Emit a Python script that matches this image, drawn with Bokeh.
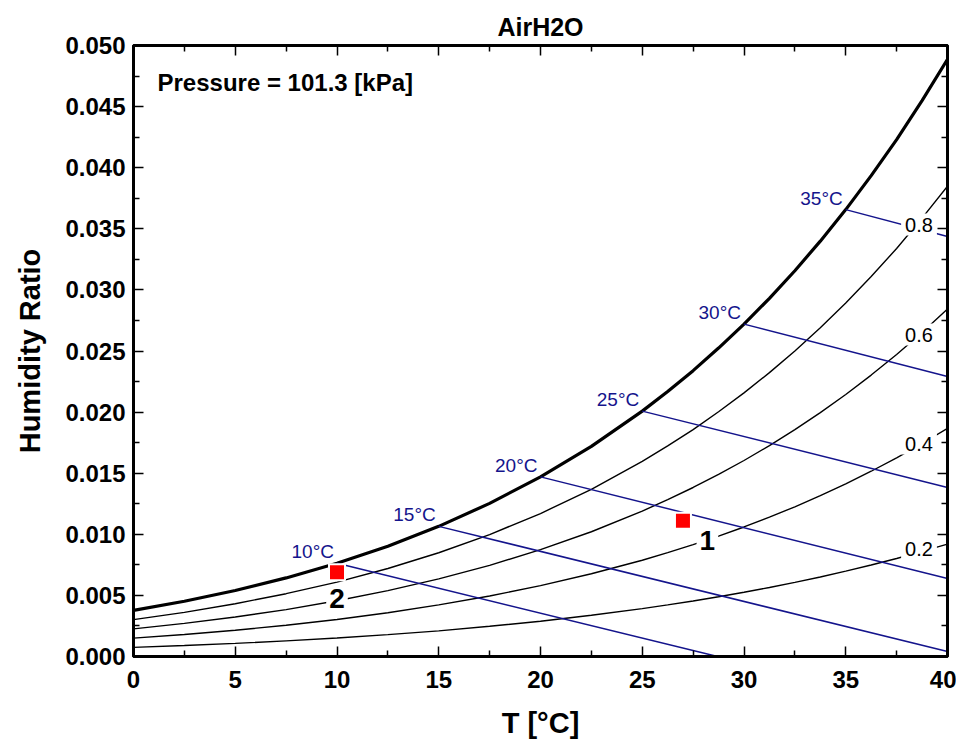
from bokeh.plotting import figure
from bokeh.models import (LinearAxis, ColumnDataSource, Label, Range1d, FixedTicker,
                          PrintfTickFormatter)
from bokeh.embed import file_html
from bokeh.resources import INLINE

# ---- data ----
T = [0, 2.5, 5, 7.5, 10, 12.5, 15, 17.5, 20, 22.5, 25, 26.25, 27.5, 28.75, 30,
     31.25, 32.5, 33.75, 35, 36.25, 37.5, 38.75, 40]
W_sat = [0.00378, 0.00452, 0.00540, 0.00643, 0.00763, 0.00903, 0.01065, 0.01253, 0.01470,
         0.01720, 0.02008, 0.02168, 0.02339, 0.02524, 0.02720,
         0.02931, 0.03157, 0.03399, 0.03657, 0.03935, 0.04230, 0.04549, 0.04887]
W_rh80 = [0.00302, 0.00361, 0.00432, 0.00514, 0.00609, 0.00720, 0.00849, 0.00998, 0.01170,
          0.01368, 0.01596, 0.01723, 0.01857, 0.02003, 0.02157,
          0.02323, 0.02500, 0.02690, 0.02892, 0.03109, 0.03339, 0.03587, 0.03849]
W_rh60 = [0.00226, 0.00271, 0.00323, 0.00384, 0.00456, 0.00539, 0.00635, 0.00746, 0.00874,
          0.01021, 0.01190, 0.01283, 0.01383, 0.01490, 0.01604,
          0.01726, 0.01857, 0.01996, 0.02144, 0.02303, 0.02471, 0.02652, 0.02843]
W_rh40 = [0.00150, 0.00180, 0.00215, 0.00256, 0.00303, 0.00358, 0.00422, 0.00495, 0.00580,
          0.00677, 0.00788, 0.00850, 0.00915, 0.00985, 0.01060,
          0.01140, 0.01225, 0.01317, 0.01413, 0.01516, 0.01626, 0.01743, 0.01867]
W_rh20 = [0.00075, 0.00090, 0.00107, 0.00128, 0.00151, 0.00179, 0.00210, 0.00247, 0.00289,
          0.00337, 0.00392, 0.00422, 0.00454, 0.00489, 0.00526,
          0.00565, 0.00607, 0.00651, 0.00699, 0.00749, 0.00802, 0.00860, 0.00920]
rh_values = ["0.8", "0.6", "0.4", "0.2"]
rh_label_x = [38.6, 38.6, 38.6, 38.6]
rh_label_y = [0.03535, 0.02635, 0.01743, 0.00876]

wb_temp = [10, 15, 20, 25, 30, 35]
wb_W_start = [0.00763, 0.01065, 0.01470, 0.02008, 0.02720, 0.03657]
wb_T_end = [28.7, 40, 40, 40, 40, 40]
wb_W_end = [0.0, 0.00041, 0.00638, 0.01383, 0.02291, 0.03437]
wb_labels = ["10°C", "15°C", "20°C", "25°C", "30°C", "35°C"]

state_T = [27, 10]
state_W = [0.0111, 0.0069]
state_names = ["1", "2"]
state_label_x = [28.2, 10.0]
state_label_y = [0.0095, 0.00475]

x_ticks = [0, 5, 10, 15, 20, 25, 30, 35, 40]
x_minor = [2.5, 7.5, 12.5, 17.5, 22.5, 27.5, 32.5, 37.5]
y_ticks = [0.0, 0.005, 0.010, 0.015, 0.020, 0.025, 0.030, 0.035, 0.040, 0.045, 0.050]
y_minor = [0.0025, 0.0075, 0.0125, 0.0175, 0.0225, 0.0275, 0.0325, 0.0375, 0.0425, 0.0475]

FONT = "Liberation Sans"
NAVY = "#14148c"

p = figure(width=956, height=748, output_backend="svg", toolbar_location=None,
           x_range=Range1d(0, 40), y_range=Range1d(0, 0.05),
           x_axis_location=None, y_axis_location=None,
           min_border_left=133, min_border_right=9, min_border_top=45, min_border_bottom=92)
p.title.text = "AirH2O"
p.title.align = "center"
p.title.text_font = FONT
p.title.text_font_size = "25px"
p.title.text_font_style = "bold"
p.title.text_color = "black"
p.xgrid.visible = False
p.ygrid.visible = False
p.outline_line_color = "black"
p.outline_line_width = 3
p.background_fill_color = "white"
p.border_fill_color = "white"


def style_axis(ax):
    ax.axis_line_width = 3
    ax.axis_line_color = "black"
    ax.major_tick_in = 10
    ax.major_tick_out = 0
    ax.minor_tick_in = 6
    ax.minor_tick_out = 0
    ax.major_tick_line_width = 1.5
    ax.minor_tick_line_width = 1.5
    ax.major_tick_line_color = "black"
    ax.minor_tick_line_color = "black"
    ax.major_label_text_font = FONT
    ax.major_label_text_font_style = "bold"
    ax.major_label_text_font_size = "24px"
    ax.major_label_text_color = "black"
    ax.axis_label_text_font = FONT
    ax.axis_label_text_font_style = "bold"
    ax.axis_label_text_color = "black"


xb = LinearAxis(ticker=FixedTicker(ticks=x_ticks, minor_ticks=x_minor), axis_label="T [°C]")
style_axis(xb)
xb.axis_label_text_font_size = "29px"
xb.major_label_standoff = 14
xb.axis_label_standoff = 16
p.add_layout(xb, "below")

yl = LinearAxis(ticker=FixedTicker(ticks=y_ticks, minor_ticks=y_minor), axis_label="Humidity Ratio",
                formatter=PrintfTickFormatter(format="%.3f"))
style_axis(yl)
yl.axis_label_text_font_size = "29px"
yl.major_label_standoff = 8
yl.axis_label_standoff = 16
p.add_layout(yl, "left")

xt = LinearAxis(ticker=FixedTicker(ticks=x_ticks, minor_ticks=x_minor),
                major_label_overrides={t: "" for t in x_ticks})
style_axis(xt)
xt.major_label_standoff = 0
p.add_layout(xt, "above")
yr = LinearAxis(ticker=FixedTicker(ticks=y_ticks, minor_ticks=y_minor),
                major_label_overrides={t: "" for t in y_ticks})
style_axis(yr)
yr.major_label_standoff = 0
p.add_layout(yr, "right")

# RH curves
for W in (W_rh80, W_rh60, W_rh40, W_rh20):
    p.line(T, W, line_color="black", line_width=1.4)
# saturation
p.line(T, W_sat, line_color="black", line_width=3.2)

# wet-bulb lines
wb_src = ColumnDataSource(dict(x0=wb_temp, y0=wb_W_start, x1=wb_T_end, y1=wb_W_end))
p.segment(x0="x0", y0="y0", x1="x1", y1="y1", source=wb_src, line_color=NAVY, line_width=1.5)

for t, w, lab in zip(wb_temp, wb_W_start, wb_labels):
    p.add_layout(Label(x=t, y=w, text=lab, text_align="right", text_baseline="bottom",
                       x_offset=-3, y_offset=1, text_font=FONT, text_font_size="19px",
                       text_color=NAVY))

for x, y, lab in zip(rh_label_x, rh_label_y, rh_values):
    p.add_layout(Label(x=x, y=y, text=lab, text_align="center", text_baseline="middle",
                       text_font=FONT, text_font_size="20px", text_color="black",
                       background_fill_color="white", padding=4))

# states
p.scatter(state_T, state_W, marker="square", size=16, fill_color="red",
          line_color="white", line_width=2)
for x, y, lab in zip(state_label_x, state_label_y, state_names):
    p.add_layout(Label(x=x, y=y, text=lab, text_align="center", text_baseline="middle",
                       text_font=FONT, text_font_size="28px", text_font_style="bold",
                       text_color="black", background_fill_color="white", padding=3))

p.add_layout(Label(x=1.18, y=0.04697, text="Pressure = 101.3 [kPa]", text_align="left",
                   text_baseline="middle", text_font=FONT, text_font_size="24px",
                   text_font_style="bold", text_color="black"))

open("out.html", "w").write(file_html(p, INLINE))
